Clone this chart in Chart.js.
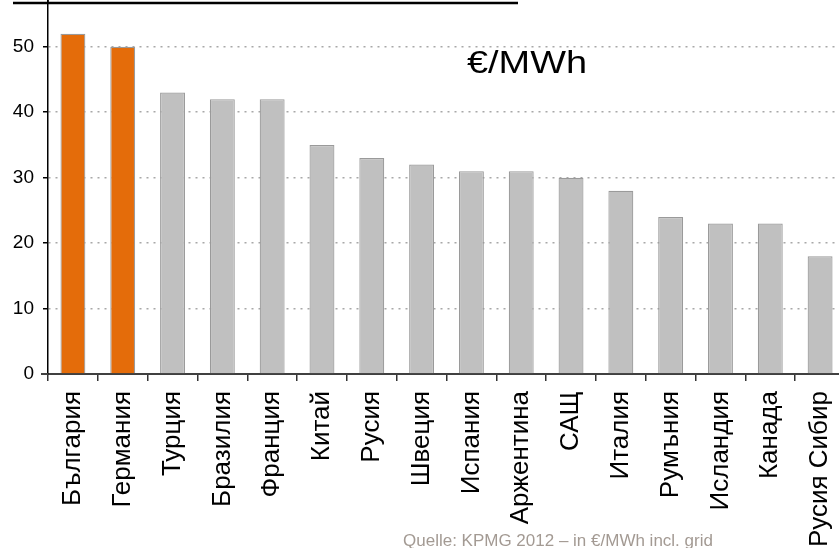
<!DOCTYPE html>
<html>
<head>
<meta charset="utf-8">
<script src="https://cdn.jsdelivr.net/npm/chart.js@4/dist/chart.umd.min.js"></script>
<style>
  html, body { margin: 0; padding: 0; background: #fff; }
  #wrap { position: relative; width: 839px; height: 548px; overflow: hidden; }
  canvas { display: block; }
</style>
</head>
<body>
<div id="wrap"><canvas id="c" width="845" height="548"></canvas></div>
<script>
// Electricity price by country, €/MWh
const countries = ['България', 'Германия', 'Турция', 'Бразилия', 'Франция', 'Китай', 'Русия', 'Швеция',
  'Испания', 'Аржентина', 'САЩ', 'Италия', 'Румъния', 'Исландия', 'Канада', 'Русия Сибир'];
const prices = [52, 50, 43, 42, 42, 35, 33, 32, 31, 31, 30, 28, 24, 23, 23, 18];
const highlighted = ['България', 'Германия'];
const yTicks = [0, 10, 20, 30, 40, 50];
const unitLabel = '€/MWh';
const sourceNote = 'Quelle: KPMG 2012 – in €/MWh incl. grid';

const ORANGE = '#E46C0A';
const GREY = '#C0C0C0';
const FONT = '"Liberation Sans", Arial, sans-serif';

const overlay = {
  id: 'overlay',
  afterDraw(chart) {
    const ctx = chart.ctx;
    const x = chart.scales.x, y = chart.scales.y;
    ctx.save();
    // heading underline
    ctx.strokeStyle = '#000';
    ctx.lineWidth = 2.5;
    ctx.beginPath();
    ctx.moveTo(13, 3);
    ctx.lineTo(518, 3);
    ctx.stroke();
    // baseline stub left of the value axis
    ctx.strokeStyle = '#404040';
    ctx.lineWidth = 2;
    ctx.beginPath();
    ctx.moveTo(41, y.getPixelForValue(0));
    ctx.lineTo(x.left, y.getPixelForValue(0));
    ctx.stroke();
    // value axis runs up to the top edge
    ctx.strokeStyle = '#000';
    ctx.lineWidth = 1.5;
    ctx.beginPath();
    ctx.moveTo(x.left, 0);
    ctx.lineTo(x.left, chart.chartArea.top + 1);
    ctx.stroke();
    // unit label (wide setting)
    ctx.fillStyle = '#000';
    ctx.font = '31px ' + FONT;
    ctx.textBaseline = 'alphabetic';
    const w = ctx.measureText(unitLabel).width;
    ctx.save();
    ctx.translate(467, 73);
    ctx.scale(120 / w, 1);
    ctx.fillText(unitLabel, 0, 0);
    ctx.restore();
    // source note
    ctx.fillStyle = '#A39A93';
    ctx.font = '17px ' + FONT;
    ctx.fillText(sourceNote, 403, 546);
    ctx.restore();
  }
};

new Chart(document.getElementById('c'), {
  type: 'bar',
  data: {
    labels: countries,
    datasets: [{
      data: prices,
      backgroundColor: countries.map(c => highlighted.includes(c) ? ORANGE : GREY),
      borderColor: '#9A9A9A',
      borderWidth: 1.2,
      borderSkipped: 'bottom',
      barPercentage: 0.5,
      categoryPercentage: 1
    }]
  },
  options: {
    responsive: false,
    devicePixelRatio: 1,
    animation: false,
    layout: { padding: { top: 1, right: 0, left: 0, bottom: 0 } },
    plugins: { legend: { display: false }, tooltip: { enabled: false } },
    scales: {
      x: {
        offset: true,
        grid: { offset: true, drawOnChartArea: false, drawTicks: true, tickLength: 7, tickColor: '#333', lineWidth: 1.5 },
        border: { display: true, color: '#404040', width: 2 },
        ticks: {
          color: '#000',
          font: { family: FONT, size: 26 },
          minRotation: 90, maxRotation: 90,
          autoSkip: false,
          padding: 10
        },
        afterFit(scale) {
          scale.height = 174;
          scale.paddingLeft = 0;
          scale.paddingRight = 0;
        }
      },
      y: {
        min: 0,
        max: 57,
        afterBuildTicks(scale) { scale.ticks = yTicks.map(v => ({ value: v })); },
        grid: {
          color: ctx => ctx.tick && ctx.tick.value === 0 ? 'rgba(0,0,0,0)' : '#A8A8A8',
          lineWidth: 1.5,
          tickColor: '#000',
          tickLength: 5
        },
        border: { display: true, color: '#000', width: 1.5, dash: [2, 5] },
        ticks: {
          color: '#000',
          font: { family: FONT, size: 19 },
          padding: 9
        },
        afterFit(scale) {
          scale.width = 48;
          scale.paddingTop = 0;
          scale.paddingBottom = 0;
        }
      }
    }
  },
  plugins: [overlay]
});
</script>
</body>
</html>
